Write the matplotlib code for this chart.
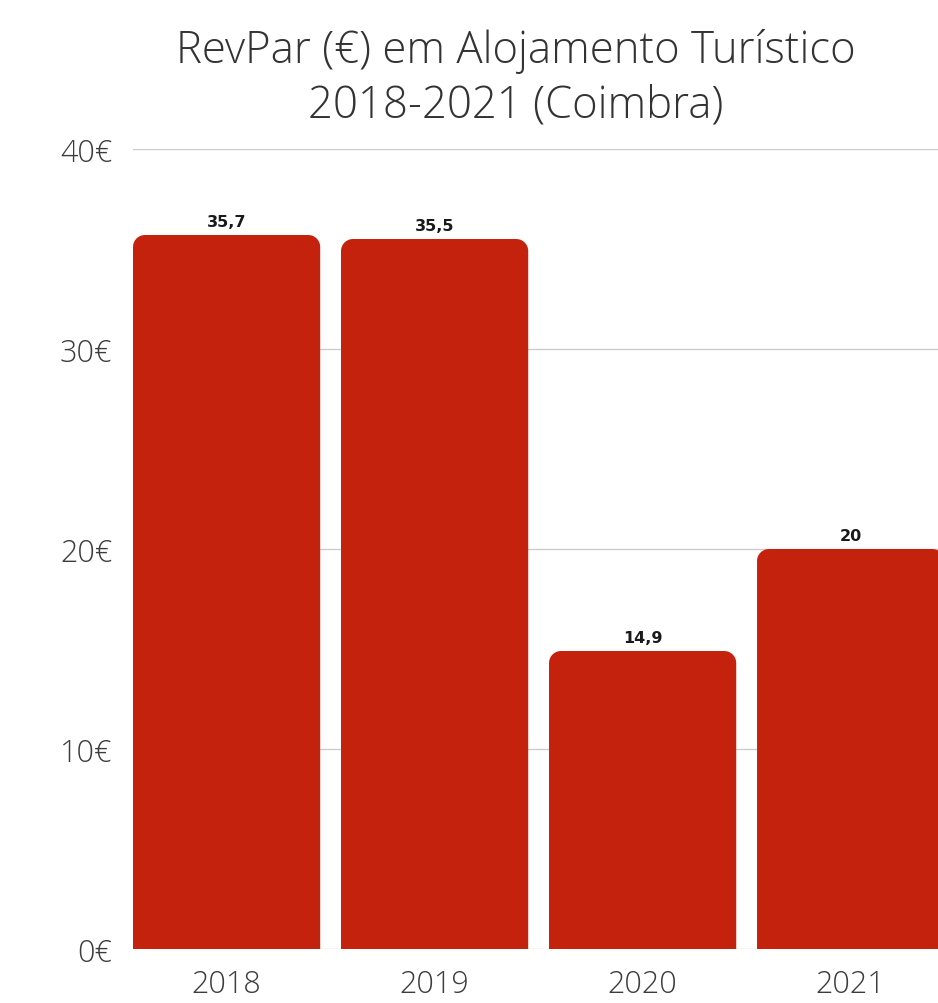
import matplotlib
matplotlib.use("Agg")
import matplotlib.pyplot as plt
from matplotlib.path import Path
from matplotlib.patches import PathPatch
import numpy as np

plt.rcParams['font.family'] = ['Open Sans', 'DejaVu Sans']

years = ['2018', '2019', '2020', '2021']
revpar = [35.7, 35.5, 14.9, 20.0]
value_labels = ['35,7', '35,5', '14,9', '20']
y_ticks = [0, 10, 20, 30, 40]
y_tick_labels = ['0€', '10€', '20€', '30€', '40€']

bar_color = '#c4220d'
text_color = '#3c3c3c'


def round_top(ax, rect, rpx=12):
    """ Replace a bar rectangle by a path with rounded top corners. """
    x0, y0 = rect.get_x(), rect.get_y()
    w, h = rect.get_width(), rect.get_height()
    # radius in data units, x and y separately
    inv = ax.transData.inverted()
    p0 = inv.transform((0, 0))
    p1 = inv.transform((rpx, rpx))
    rx, ry = abs(p1[0] - p0[0]), abs(p1[1] - p0[1])
    t = np.linspace(0, np.pi / 2, 12)
    verts = [(x0, y0), (x0, y0 + h - ry)]
    # top-left corner
    for a in t:
        verts.append((x0 + rx - rx * np.cos(a), y0 + h - ry + ry * np.sin(a)))
    # top-right corner
    for a in t[::-1]:
        verts.append((x0 + w - rx + rx * np.cos(a), y0 + h - ry + ry * np.sin(a)))
    verts += [(x0 + w, y0), (x0, y0)]
    codes = [Path.MOVETO] + [Path.LINETO] * (len(verts) - 2) + [Path.CLOSEPOLY]
    patch = PathPatch(Path(verts, codes), facecolor=bar_color, edgecolor='none',
                      zorder=3, clip_on=True)
    ax.add_patch(patch)
    rect.set_visible(False)


fig = plt.figure(figsize=(9.38, 10.04), dpi=100)
ax = fig.add_axes([133 / 938, 54 / 1004, 1 - 133 / 938, 800 / 1004])

x = np.arange(len(years))
bars = ax.bar(x, revpar, width=0.9, color=bar_color, zorder=3)

ax.set_ylim(0, 40)
ax.set_xlim(-0.45, 3.42)

for rect in bars:
    round_top(ax, rect)

for xi, v, lab in zip(x, revpar, value_labels):
    ax.annotate(lab, (xi, v), xytext=(0, 6), textcoords='offset pixels',
                ha='center', va='bottom', fontsize=11.5, fontweight='bold',
                family='DejaVu Sans', color='#1a1a1a')

ax.set_yticks(y_ticks)
ax.set_yticklabels(y_tick_labels)
ax.set_xticks(x)
ax.set_xticklabels(years)
ax.tick_params(axis='both', length=0, labelsize=22, colors=text_color)
ax.tick_params(axis='y', pad=15)
ax.tick_params(axis='x', pad=14)
for lab in ax.get_xticklabels() + ax.get_yticklabels():
    lab.set_fontweight('light')

ax.yaxis.grid(True, color='#cccccc', linewidth=1)
ax.set_axisbelow(True)
for s in ax.spines.values():
    s.set_visible(False)

fig.text(0.55, 0.922, 'RevPar (€) em Alojamento Turístico\n2018-2021 (Coimbra)',
         ha='center', va='center', fontsize=31.5, color='#333333',
         fontweight='light', linespacing=1.3)

fig.savefig('out.png', dpi=100, facecolor='white')
